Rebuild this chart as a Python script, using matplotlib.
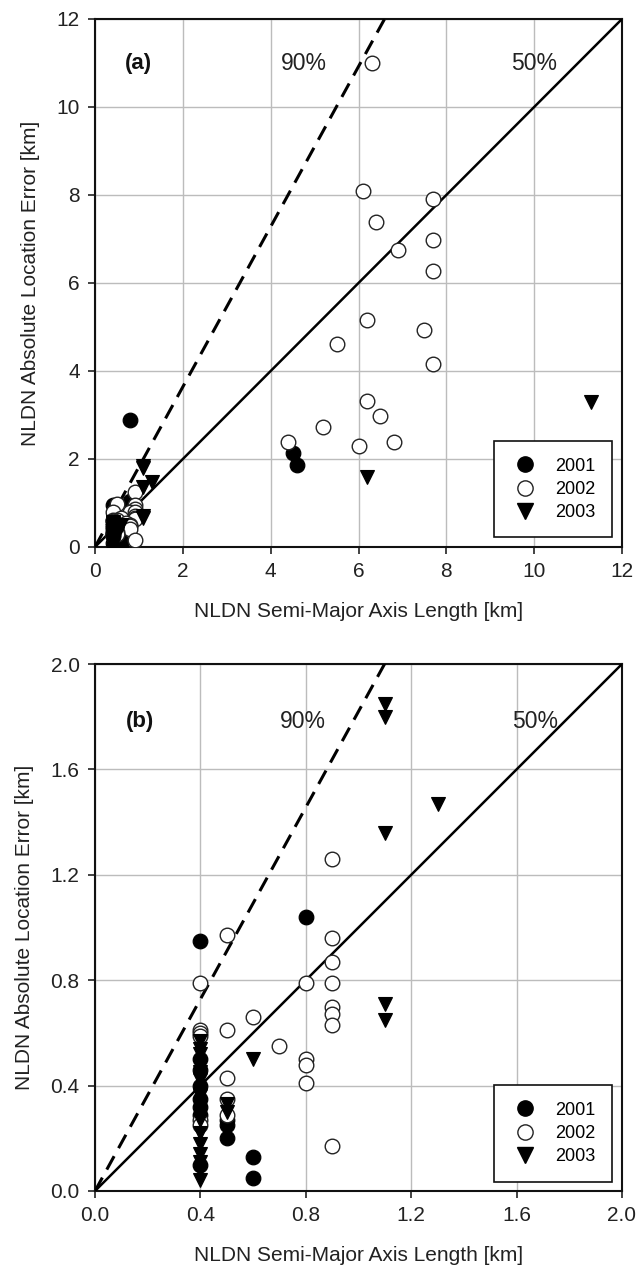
import matplotlib
matplotlib.use('Agg')
import matplotlib.pyplot as plt
from matplotlib.lines import Line2D

plt.rcParams['font.family'] = ['Liberation Sans', 'DejaVu Sans']

# ---- data (km) ----
x2001 = [0.8, 4.5, 4.6, 0.8, 0.4, 0.5, 0.5, 0.5, 0.6, 0.6,
         0.4, 0.4, 0.4, 0.4, 0.4, 0.4, 0.4]
y2001 = [2.88, 2.13, 1.87, 1.04, 0.95, 0.27, 0.25, 0.20, 0.13, 0.05,
         0.50, 0.46, 0.40, 0.35, 0.32, 0.29, 0.10]

x2002 = [6.3, 6.1, 7.7, 6.4, 6.9, 7.7, 7.7, 6.2, 7.5, 5.5, 7.7, 6.2, 6.5, 5.2, 6.8, 6.0, 4.4,
         0.9, 0.5, 0.9, 0.9, 0.4, 0.8, 0.9, 0.9, 0.9, 0.6, 0.9, 0.5, 0.4, 0.4, 0.4,
         0.7, 0.8, 0.8, 0.5, 0.8, 0.5, 0.5, 0.4, 0.4, 0.9]
y2002 = [11.0, 8.1, 7.92, 7.38, 6.75, 6.97, 6.28, 5.16, 4.94, 4.62, 4.16, 3.31, 2.97, 2.72, 2.38, 2.29, 2.38,
         1.26, 0.97, 0.96, 0.87, 0.79, 0.79, 0.79, 0.70, 0.67, 0.66, 0.63, 0.61, 0.61, 0.60, 0.59,
         0.55, 0.50, 0.48, 0.43, 0.41, 0.35, 0.29, 0.27, 0.25, 0.17]

x2003 = [11.3, 6.2, 1.1, 1.1, 1.3, 1.1, 1.1, 1.1, 0.6, 0.5, 0.5,
         0.4, 0.4, 0.4, 0.4, 0.4, 0.4, 0.4, 0.4, 0.4, 0.4, 0.4, 0.4, 0.4, 0.4, 0.4, 0.4, 0.4]
y2003 = [3.3, 1.58, 1.85, 1.80, 1.47, 1.36, 0.71, 0.65, 0.50, 0.33, 0.30,
         0.57, 0.54, 0.52, 0.48, 0.45, 0.42, 0.38, 0.36, 0.33, 0.30, 0.27, 0.22, 0.18, 0.14, 0.11, 0.08, 0.04]

slope50 = 1.0
slope90 = 1.82

panels = [
    dict(label='(a)', lim=12, ticks=[0, 2, 4, 6, 8, 10, 12], fmt='{:g}', tx=[1.0, 4.75, 10.0], ty=11.0),
    dict(label='(b)', lim=2.0, ticks=[0.0, 0.4, 0.8, 1.2, 1.6, 2.0], fmt='{:.1f}', tx=[0.17, 0.79, 1.67], ty=1.78),
]

fig = plt.figure(figsize=(6.39, 12.73), dpi=100)
W, H = 639.0, 1273.0
rects = [(95, 19, 622, 547), (95, 664, 622, 1191)]

for p, (l, t, r, b) in zip(panels, rects):
    ax = fig.add_axes([l / W, 1 - b / H, (r - l) / W, (b - t) / H])
    lim = p['lim']
    ax.set_xlim(0, lim)
    ax.set_ylim(0, lim)
    ax.set_xticks(p['ticks'])
    ax.set_yticks(p['ticks'])
    ax.set_xticklabels([p['fmt'].format(v) for v in p['ticks']])
    ax.set_yticklabels([p['fmt'].format(v) for v in p['ticks']])
    ax.grid(True, color='#bcbcbc', lw=1.0)
    ax.set_axisbelow(True)
    for s in ax.spines.values():
        s.set_linewidth(1.5)
        s.set_color('#111111')
    ax.tick_params(direction='out', length=5, width=1.2, labelsize=15, pad=6, colors='#222222')

    ax.plot([0, lim], [0, lim * slope50], color='black', lw=1.8, zorder=3)
    ax.plot([0, lim], [0, lim * slope90], color='black', lw=2.2, ls=(0, (5, 3)), zorder=3)

    ms = 10.5
    ax.plot(x2001, y2001, ls='none', marker='o', ms=ms, mfc='black', mec='black', mew=0.9, zorder=4)
    ax.plot(x2002, y2002, ls='none', marker='o', ms=ms, mfc='white', mec='#222222', mew=1.0, zorder=4)
    ax.plot(x2003, y2003, ls='none', marker='v', ms=ms, mfc='black', mec='black', mew=0.8, zorder=4)

    ax.text(p['tx'][0], p['ty'], p['label'], fontsize=16, fontweight='bold', ha='center', va='center', color='#111111')
    ax.text(p['tx'][1], p['ty'], '90%', fontsize=16.5, ha='center', va='center', color='#222222')
    ax.text(p['tx'][2], p['ty'], '50%', fontsize=16.5, ha='center', va='center', color='#222222')

    ax.set_xlabel('NLDN Semi-Major Axis Length [km]', fontsize=15, labelpad=15, color='#222222')
    ax.set_ylabel('NLDN Absolute Location Error [km]', fontsize=15, labelpad=12, color='#222222')

    handles = [
        Line2D([], [], ls='none', marker='o', ms=11, mfc='black', mec='black'),
        Line2D([], [], ls='none', marker='o', ms=11, mfc='white', mec='#222222'),
        Line2D([], [], ls='none', marker='v', ms=11, mfc='black', mec='black'),
    ]
    leg = ax.legend(handles, ['2001', '2002', '2003'], loc='lower right',
                    bbox_to_anchor=(0.981, 0.018), borderaxespad=0, fontsize=13,
                    frameon=True, fancybox=False, edgecolor='#111111', framealpha=1,
                    handletextpad=0.9, labelspacing=0.35, borderpad=0.9, handlelength=1.6)
    leg.get_frame().set_linewidth(1.2)
    leg.set_zorder(6)

fig.savefig('out.png', dpi=100)
